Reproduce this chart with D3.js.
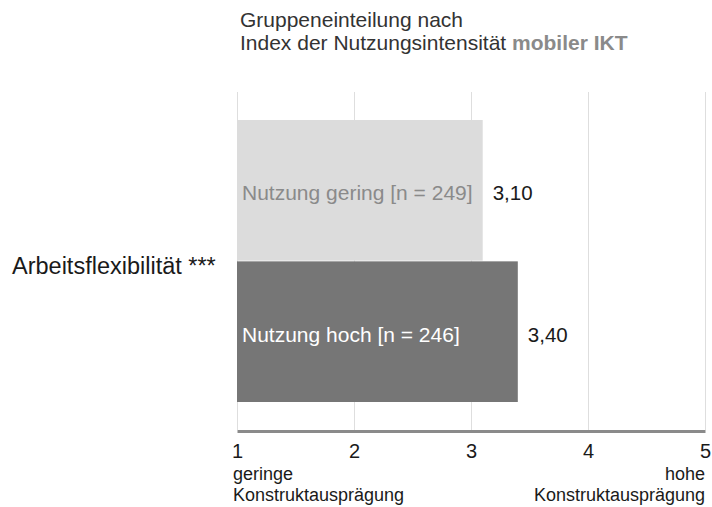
<!DOCTYPE html>
<html>
<head>
<meta charset="utf-8">
<script src="https://cdn.jsdelivr.net/npm/d3@7"></script>
<style>
  body { margin: 0; background: #fff; font-family: "Liberation Sans", Arial, sans-serif; }
  .grid line { stroke: #dedede; stroke-width: 1px; }
</style>
</head>
<body>
<div id="chart"></div>
<script>
// data
var groups = ["Nutzung gering [n = 249]", "Nutzung hoch [n = 246]"];
var values = [3.10, 3.40];
var valueLabels = ["3,10", "3,40"];
var category = "Arbeitsflexibilität ***";
var ticks = [1, 2, 3, 4, 5];

var barColor = ["#dcdcdc", "#767676"];
var labelColor = ["#8a8a8a", "#ffffff"];

var width = 712, height = 507;

var svg = d3.select("#chart").append("svg")
	.attr("width", width)
	.attr("height", height);

// Scales
var x = d3.scaleLinear()
	.domain([1, 5])
	.range([237, 705]);

var y = d3.scaleBand()
	.domain(groups)
	.range([120, 402])
	.paddingInner(0.005);

// gridlines
svg.append("g")
	.attr("class", "grid")
	.selectAll("line")
	.data(ticks)
	.enter()
	.append("line")
		.attr("x1", function(d){ return x(d) + 0.5 })
		.attr("x2", function(d){ return x(d) + 0.5 })
		.attr("y1", 92)
		.attr("y2", 430);

// bars
svg.selectAll("rect.bar")
	.data(groups)
	.enter()
	.append("rect")
		.attr("class", "bar")
		.attr("x", x(1))
		.attr("y", function(d){ return y(d) })
		.attr("width", function(d, i){ return x(values[i]) - x(1) })
		.attr("height", y.bandwidth())
		.style("fill", function(d, i){ return barColor[i] });

// labels inside the bars
svg.selectAll("text.group")
	.data(groups)
	.enter()
	.append("text")
		.attr("class", "group")
		.attr("x", x(1) + 5)
		.attr("y", function(d){ return y(d) + y.bandwidth() / 2 + 10 })
		.style("font-size", "21px")
		.style("fill", function(d, i){ return labelColor[i] })
		.text(function(d){ return d });

// values
svg.selectAll("text.value")
	.data(groups)
	.enter()
	.append("text")
		.attr("class", "value")
		.attr("x", function(d, i){ return x(values[i]) + 10 })
		.attr("y", function(d){ return y(d) + y.bandwidth() / 2 + 10 })
		.style("font-size", "20.5px")
		.style("fill", "#1a1a1a")
		.text(function(d, i){ return valueLabels[i] });

// x axis
var xAxis = d3.axisBottom(x)
	.tickValues(ticks)
	.tickSize(0)
	.tickPadding(13)
	.tickFormat(d3.format("d"));

var gx = svg.append("g")
	.attr("transform", "translate(0,431)")
	.call(xAxis);
gx.select(".domain")
	.attr("stroke", "#8a8a8a")
	.attr("stroke-width", 3);
gx.selectAll(".tick text")
	.style("font-family", "Liberation Sans, Arial, sans-serif")
	.style("font-size", "20px")
	.style("fill", "#1a1a1a");

// axis end labels
var endLabels = [
	{ lines: ["geringe", "Konstruktausprägung"], px: x(1) - 4, anchor: "start" },
	{ lines: ["hohe", "Konstruktausprägung"], px: x(5), anchor: "end" }
];
endLabels.forEach(function(l) {
	var t = svg.append("text")
		.attr("y", 480)
		.attr("text-anchor", l.anchor)
		.style("font-size", "18px")
		.style("fill", "#1a1a1a");
	l.lines.forEach(function(s, i) {
		t.append("tspan")
			.attr("x", l.px)
			.attr("dy", i == 0 ? 0 : 21)
			.text(s);
	});
});

// category label
svg.append("text")
	.attr("x", 12)
	.attr("y", 274)
	.style("font-size", "23.5px")
	.style("fill", "#1a1a1a")
	.text(category);

// title
svg.append("text")
	.attr("x", 240)
	.attr("y", 27)
	.style("font-size", "21px")
	.style("fill", "#333")
	.text("Gruppeneinteilung nach");

var t2 = svg.append("text")
	.attr("x", 240)
	.attr("y", 50)
	.style("font-size", "21px")
	.style("fill", "#333");
t2.append("tspan").text("Index der Nutzungsintensität ");
t2.append("tspan")
	.style("font-weight", "bold")
	.style("fill", "#8a8a8a")
	.text("mobiler IKT");
</script>
</body>
</html>
